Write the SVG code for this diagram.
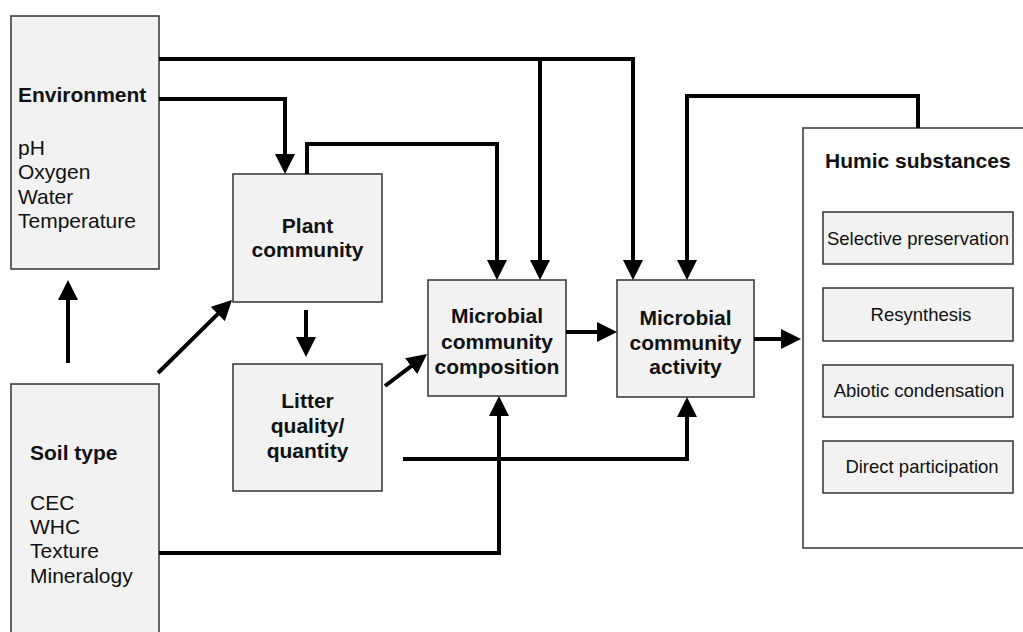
<svg xmlns="http://www.w3.org/2000/svg" width="1023" height="632" viewBox="0 0 1023 632">
<defs>
<style>
.box{fill:#f2f2f2;stroke:#333;stroke-width:1.5}
.wbox{fill:#ffffff;stroke:#333;stroke-width:1.5}
.b{font-family:"Liberation Sans",Arial,sans-serif;font-weight:bold;font-size:21px;fill:#111}
.r{font-family:"Liberation Sans",Arial,sans-serif;font-size:21px;fill:#111}
.s{font-family:"Liberation Sans",Arial,sans-serif;font-size:18.5px;fill:#111}
.c{text-anchor:middle}
.ln{fill:none;stroke:#000;stroke-width:4;stroke-linejoin:miter}
</style>
<marker id="ah" markerUnits="userSpaceOnUse" markerWidth="20" markerHeight="20" refX="8" refY="10" orient="auto">
<path d="M0,0 L20,10 L0,20 z" fill="#000"/>
</marker>
</defs>
<rect width="1023" height="632" fill="#fff"/>
<g id="environment">
<rect class="box" x="11" y="16" width="148" height="253"/>
<text class="b" x="18" y="102">Environment</text>
<text class="r" x="18" y="155">pH</text>
<text class="r" x="18" y="179">Oxygen</text>
<text class="r" x="18" y="204">Water</text>
<text class="r" x="18" y="228">Temperature</text>
</g>
<g id="soil-type">
<rect class="box" x="11" y="384" width="148" height="260"/>
<text class="b" x="30" y="460">Soil type</text>
<text class="r" x="30" y="510">CEC</text>
<text class="r" x="30" y="534">WHC</text>
<text class="r" x="30" y="558">Texture</text>
<text class="r" x="30" y="583">Mineralogy</text>
</g>
<g id="plant-community">
<rect class="box" x="233" y="174" width="149" height="128"/>
<text class="b c" x="307.5" y="233">Plant</text>
<text class="b c" x="307.5" y="257">community</text>
</g>
<g id="litter">
<rect class="box" x="233" y="364" width="149" height="127"/>
<text class="b c" x="307.5" y="408">Litter</text>
<text class="b c" x="307.5" y="433">quality/</text>
<text class="b c" x="307.5" y="458">quantity</text>
</g>
<g id="microbial-composition">
<rect class="box" x="428" y="280" width="138" height="116"/>
<text class="b c" x="497" y="323">Microbial</text>
<text class="b c" x="497" y="349">community</text>
<text class="b c" x="497" y="374">composition</text>
</g>
<g id="microbial-activity">
<rect class="box" x="617" y="280" width="137" height="117"/>
<text class="b c" x="685.5" y="325">Microbial</text>
<text class="b c" x="685.5" y="350">community</text>
<text class="b c" x="685.5" y="374">activity</text>
</g>
<g id="humic-substances">
<rect class="wbox" x="803" y="128" width="240" height="420"/>
<text class="b" x="825" y="168" font-size="19">Humic substances</text>
<rect class="box" x="823" y="212" width="190" height="52"/>
<text class="s c" x="918" y="245">Selective preservation</text>
<rect class="box" x="823" y="288" width="190" height="53"/>
<text class="s c" x="921" y="321">Resynthesis</text>
<rect class="box" x="823" y="365" width="190" height="52"/>
<text class="s c" x="919" y="397">Abiotic condensation</text>
<rect class="box" x="823" y="441" width="190" height="52"/>
<text class="s c" x="922" y="473">Direct participation</text>
</g>
<g id="connectors">
<path class="ln" d="M159,59 H633 V268" marker-end="url(#ah)"/>
<path class="ln" d="M540,59 V268" marker-end="url(#ah)"/>
<path class="ln" d="M159,99 H285 V162" marker-end="url(#ah)"/>
<path class="ln" d="M307,174 V144 H497 V268" marker-end="url(#ah)"/>
<path class="ln" d="M918,128 V96 H687 V268" marker-end="url(#ah)"/>
<path class="ln" d="M68,363 V292" marker-end="url(#ah)"/>
<path class="ln" d="M158,373 L223.5,308.4" marker-end="url(#ah)"/>
<path class="ln" d="M306,310 V345" marker-end="url(#ah)"/>
<path class="ln" d="M385,386 L417.5,361.3" marker-end="url(#ah)"/>
<path class="ln" d="M566,332 H605" marker-end="url(#ah)"/>
<path class="ln" d="M754,339 H789" marker-end="url(#ah)"/>
<path class="ln" d="M403,459 H687 V409" marker-end="url(#ah)"/>
<path class="ln" d="M159,553 H499 V408" marker-end="url(#ah)"/>
</g>
</svg>
